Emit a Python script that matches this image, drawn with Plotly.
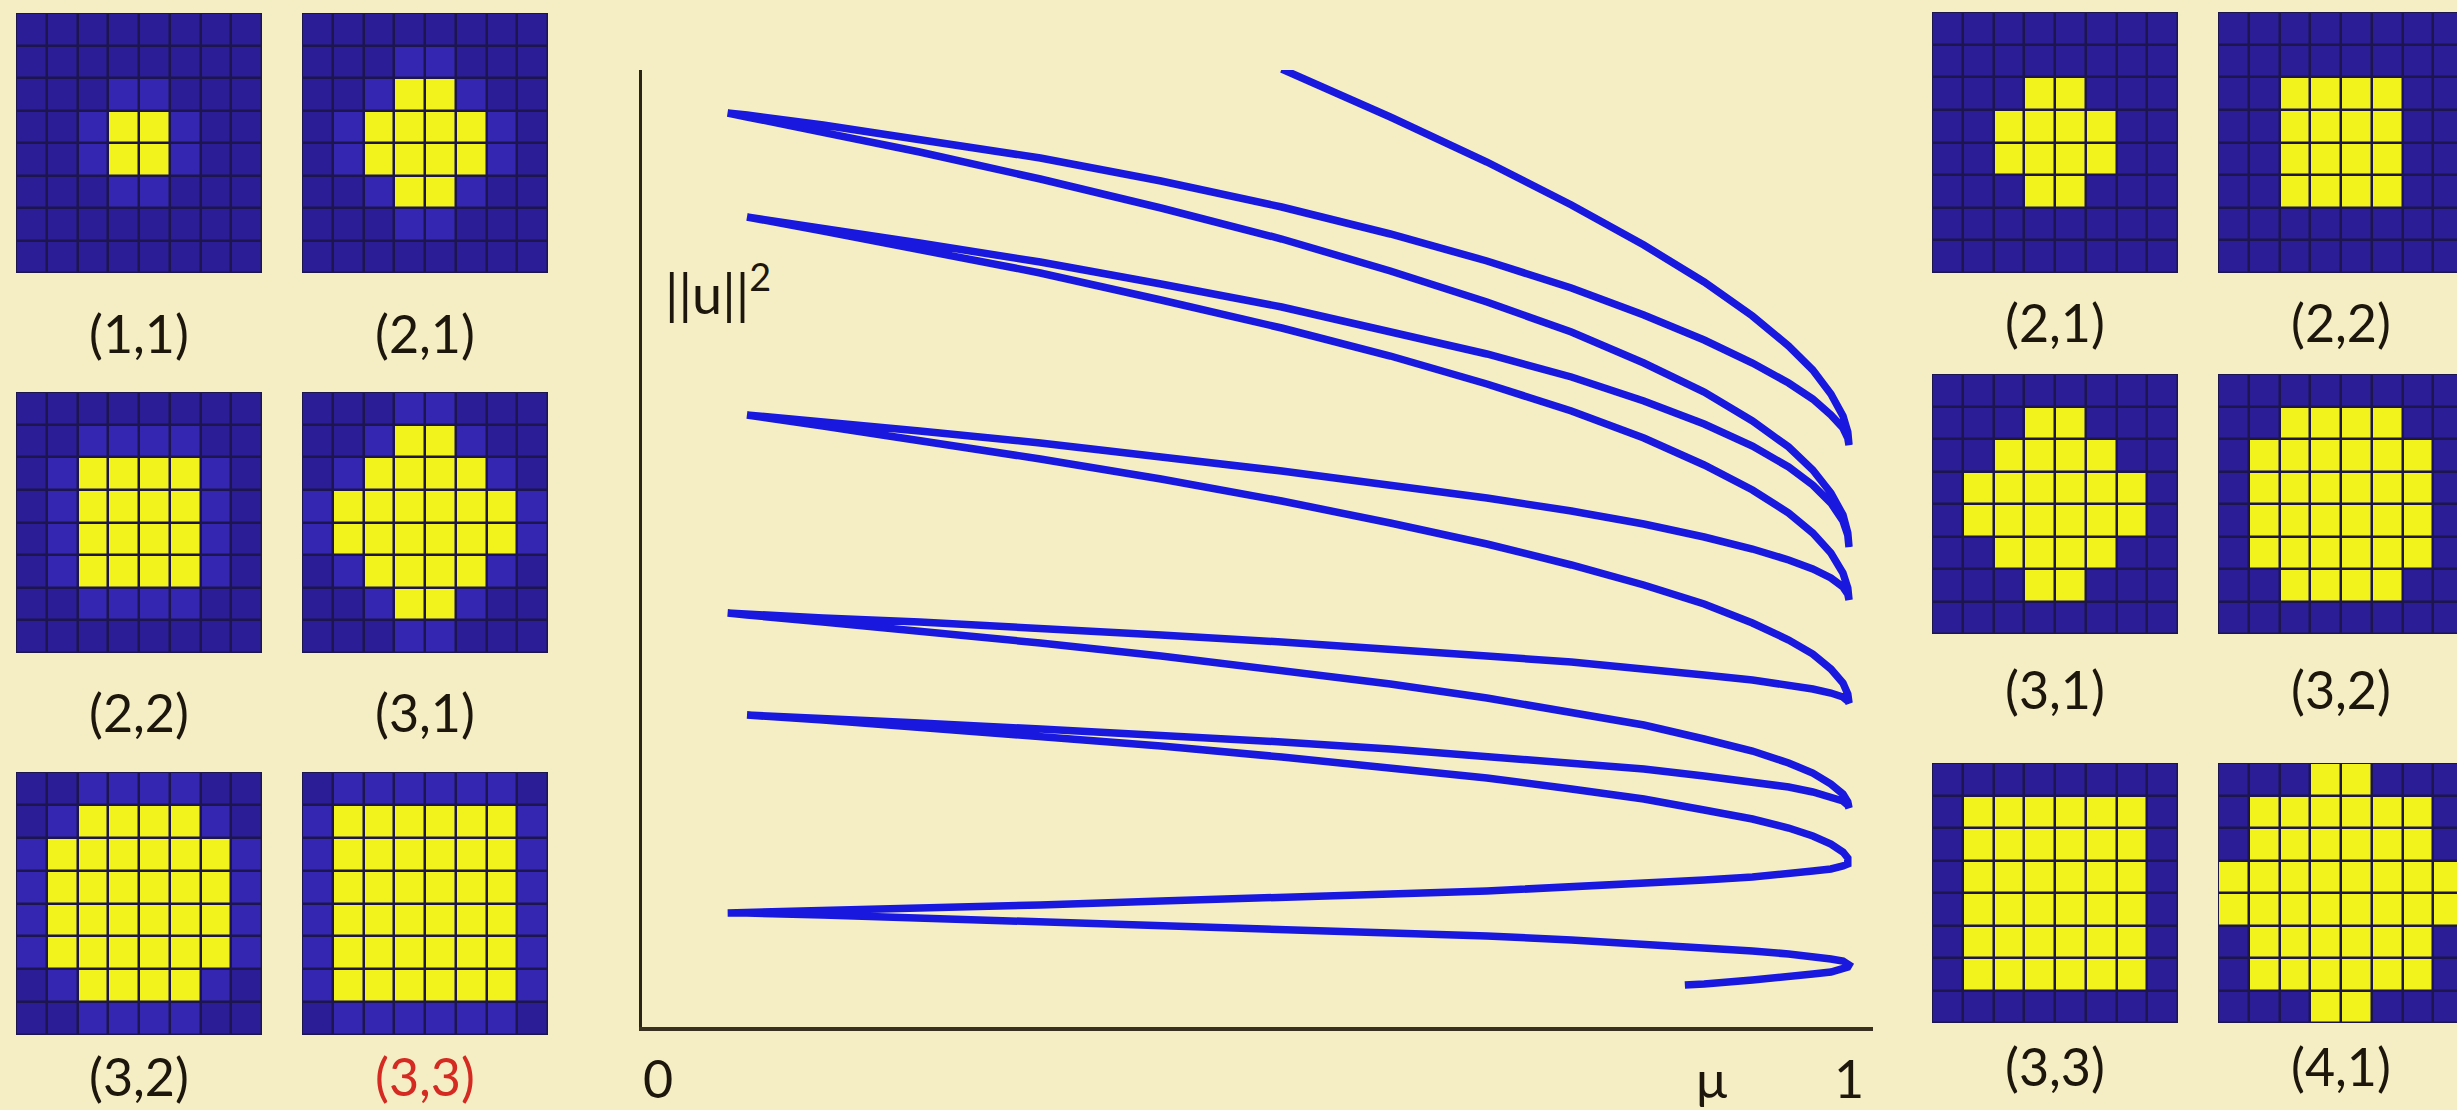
import plotly.graph_objects as go

W, H = 2457, 1110
BG = "#F5EEC4"
INK = "#1c160c"
CURVE = "#1818DE"

# ---- bifurcation curve: (mu, ||u||^2) samples along each branch, in path order ----
seg_top = [(0.530, 95.8), (0.62, 91.0), (0.70, 86.5), (0.77, 82.2), (0.83, 78.2), (0.88, 74.5),
           (0.92, 71.1), (0.95, 68.1), (0.97, 65.7), (0.985, 63.3), (0.995, 61.1), (0.999, 59.5),
           (1.0, 58.2)]
seg_1 = [(0.999, 58.9), (0.995, 59.9), (0.985, 61.2), (0.97, 62.8), (0.95, 64.4), (0.92, 66.4),
         (0.88, 68.7), (0.83, 71.2), (0.77, 73.9), (0.70, 76.6), (0.62, 79.3), (0.53, 82.0),
         (0.43, 84.6), (0.33, 86.9), (0.23, 88.8), (0.15, 90.2), (0.087, 91.2), (0.071, 91.4)]
seg_2 = [(0.087, 91.0), (0.15, 89.5), (0.23, 87.5), (0.33, 84.8), (0.43, 81.9), (0.53, 78.8),
         (0.62, 75.6), (0.70, 72.5), (0.77, 69.5), (0.83, 66.4), (0.88, 63.5), (0.92, 60.6),
         (0.95, 58.0), (0.97, 55.7), (0.985, 53.4), (0.995, 51.2), (0.999, 49.4), (1.0, 48.0)]
seg_3 = [(0.999, 49.2), (0.995, 50.6), (0.985, 52.4), (0.97, 54.2), (0.95, 56.0), (0.92, 58.1),
         (0.88, 60.3), (0.83, 62.6), (0.77, 65.0), (0.70, 67.3), (0.62, 69.6), (0.53, 72.0),
         (0.43, 74.3), (0.33, 76.5), (0.23, 78.4), (0.15, 79.9), (0.087, 81.0)]
seg_4 = [(0.15, 79.6), (0.23, 77.8), (0.33, 75.4), (0.43, 72.7), (0.53, 69.9), (0.62, 67.1),
         (0.70, 64.3), (0.77, 61.6), (0.83, 58.9), (0.88, 56.2), (0.92, 53.7), (0.95, 51.4),
         (0.97, 49.4), (0.985, 47.4), (0.995, 45.4), (0.999, 43.9), (1.0, 42.7)]
seg_5 = [(0.999, 43.3), (0.995, 44.0), (0.985, 44.9), (0.97, 45.8), (0.95, 46.7), (0.92, 47.8),
         (0.88, 49.0), (0.83, 50.3), (0.77, 51.6), (0.70, 52.9), (0.62, 54.2), (0.53, 55.6),
         (0.43, 57.0), (0.33, 58.4), (0.23, 59.6), (0.15, 60.5), (0.087, 61.2)]
seg_6 = [(0.15, 60.1), (0.23, 58.7), (0.33, 56.8), (0.43, 54.8), (0.53, 52.6), (0.62, 50.4),
         (0.70, 48.3), (0.77, 46.2), (0.83, 44.2), (0.88, 42.3), (0.92, 40.4), (0.95, 38.7),
         (0.97, 37.3), (0.985, 35.8), (0.995, 34.4), (0.999, 33.3), (1.0, 32.4)]
seg_7 = [(0.999, 32.6), (0.995, 33.0), (0.985, 33.4), (0.97, 33.8), (0.95, 34.2), (0.92, 34.7),
         (0.88, 35.2), (0.83, 35.8), (0.77, 36.5), (0.70, 37.1), (0.62, 37.8), (0.53, 38.5),
         (0.43, 39.2), (0.33, 39.9), (0.23, 40.5), (0.15, 40.9), (0.087, 41.3), (0.071, 41.4)]
seg_8 = [(0.087, 41.2), (0.15, 40.5), (0.23, 39.6), (0.33, 38.4), (0.43, 37.1), (0.53, 35.7),
         (0.62, 34.3), (0.70, 32.9), (0.77, 31.5), (0.83, 30.2), (0.88, 28.8), (0.92, 27.6),
         (0.95, 26.4), (0.97, 25.4), (0.985, 24.3), (0.995, 23.3), (0.999, 22.5), (1.0, 21.9)]
seg_9 = [(0.999, 22.2), (0.995, 22.6), (0.985, 23.0), (0.97, 23.5), (0.95, 24.0), (0.92, 24.5),
         (0.88, 25.1), (0.83, 25.8), (0.77, 26.4), (0.70, 27.1), (0.62, 27.8), (0.53, 28.5),
         (0.43, 29.2), (0.33, 29.8), (0.23, 30.4), (0.15, 30.9), (0.087, 31.2)]
seg_10 = [(0.15, 30.7), (0.23, 30.0), (0.33, 29.1), (0.43, 28.1), (0.53, 27.0), (0.62, 25.9),
          (0.70, 24.9), (0.77, 23.8), (0.83, 22.8), (0.88, 21.7), (0.92, 20.8), (0.95, 19.9),
          (0.97, 19.1), (0.985, 18.3), (0.995, 17.5), (0.999, 16.9), (1.0, 16.4)]
seg_11 = [(0.999, 16.3), (0.995, 16.1), (0.985, 15.8), (0.97, 15.6), (0.95, 15.3), (0.92, 15.0),
          (0.88, 14.7), (0.83, 14.4), (0.77, 14.0), (0.70, 13.6), (0.62, 13.3), (0.53, 12.9),
          (0.43, 12.6), (0.33, 12.2), (0.23, 11.9), (0.15, 11.6), (0.087, 11.5), (0.071, 11.4)]
seg_12 = [(0.087, 11.4), (0.15, 11.2), (0.23, 10.9), (0.33, 10.6), (0.43, 10.2), (0.53, 9.8),
          (0.62, 9.4), (0.70, 9.1), (0.77, 8.7), (0.83, 8.3), (0.88, 8.0), (0.92, 7.6),
          (0.95, 7.3), (0.97, 7.1), (0.985, 6.8), (0.995, 6.6), (0.999, 6.4), (1.0, 6.2)]
seg_end = [(0.999, 6.0), (0.995, 5.8), (0.985, 5.5), (0.97, 5.3), (0.95, 5.0), (0.92, 4.7),
           (0.88, 4.3), (0.864, 4.2)]

branch_path = [seg_top, seg_1, seg_2, seg_3, seg_4, seg_5, seg_6, seg_7,
               seg_8, seg_9, seg_10, seg_11, seg_12, seg_end]

# ---- lattice patterns, top row first: '#' excited site, '+' weakly raised site ----
pat_11 = ["........", "........", "...++...", "..+##+..", "..+##+..", "...++...", "........", "........"]
pat_21 = ["........", "...++...", "..+##+..", ".+####+.", ".+####+.", "..+##+..", "...++...", "........"]
pat_22 = ["........", "..++++..", ".+####+.", ".+####+.", ".+####+.", ".+####+.", "..++++..", "........"]
pat_31 = ["...++...", "..+##+..", ".+####+.", "+######+", "+######+", ".+####+.", "..+##+..", "...++..."]
pat_32 = ["..++++..", ".+####+.", "+######+", "+######+", "+######+", "+######+", ".+####+.", "..++++.."]
pat_33 = [".++++++.", "+######+", "+######+", "+######+", "+######+", "+######+", "+######+", ".++++++."]
pat_41 = ["...##...", ".######.", ".######.", "########", "########", ".######.", ".######.", "...##..."]

left_labels = ["(1,1)", "(2,1)", "(2,2)", "(3,1)", "(3,2)", "(3,3)"]
left_patterns = [pat_11, pat_21, pat_22, pat_31, pat_32, pat_33]
right_labels = ["(2,1)", "(2,2)", "(3,1)", "(3,2)", "(3,3)", "(4,1)"]
right_patterns = [pat_21, pat_22, pat_31, pat_32, pat_33, pat_41]
highlight_label = 5  # index of the emphasised left pattern


def to_grid(pattern, halo):
    lvl = {"#": 1.0, "+": 0.5 if halo else 0.0, ".": 0.0}
    return [[lvl[c] for c in row] for row in pattern]


fig = go.Figure()

# main diagram
xs, ys = [], []
for seg in branch_path:
    for m, n in seg:
        xs.append(m)
        ys.append(n)
fig.add_trace(go.Scatter(x=xs, y=ys, mode="lines", xaxis="x", yaxis="y",
                         line=dict(color=CURVE, width=7.5),
                         hoverinfo="skip", showlegend=False, cliponaxis=False))

px_x0, px_x1 = 642, 1873      # axis span in pixels
px_y0, px_y1 = 1027, 70
mu_px = 1207.0                # pixels per unit mu
layout = dict(
    width=W, height=H, margin=dict(l=0, r=0, t=0, b=0),
    paper_bgcolor=BG, plot_bgcolor=BG, showlegend=False,
    xaxis=dict(domain=[px_x0 / W, px_x1 / W], range=[0, (px_x1 - px_x0) / mu_px],
               showline=True, linecolor="#3a3020", linewidth=4, showgrid=False,
               zeroline=False, showticklabels=False, ticks=""),
    yaxis=dict(domain=[(H - px_y0) / H, (H - px_y1) / H], range=[0, (px_y0 - px_y1) / 10.0],
               showline=True, linecolor="#2a2418", linewidth=3, showgrid=False,
               zeroline=False, showticklabels=False, ticks=""),
)

# panel boxes in pixels: (x0, x1, y0, y1); the far-right column runs off the page
pw = 246
left_boxes = []
for (y0, y1) in [(13, 273), (392, 653), (772, 1035)]:
    for x0 in [16, 302]:
        left_boxes.append((x0, x0 + pw, y0, y1))
right_boxes = []
for (y0, y1) in [(12, 273), (374, 634), (763, 1023)]:
    for x0 in [1932, 2218]:
        right_boxes.append((x0, x0 + pw, y0, y1))
left_label_y = [333, 333, 712, 712, 1076, 1076]
right_label_y = [322, 322, 689, 689, 1066, 1066]

scale = [[0.0, "#2B1D96"], [0.33, "#2B1D96"], [0.33, "#3526B2"], [0.66, "#3526B2"],
         [0.66, "#F2F21C"], [1.0, "#F2F21C"]]

shapes = []
annotations = []
panels = [(p, b, True) for p, b in zip(left_patterns, left_boxes)] + \
         [(p, b, False) for p, b in zip(right_patterns, right_boxes)]
for k, (pat, (x0, x1, y0, y1), halo) in enumerate(panels):
    n = k + 2
    cell = (x1 - x0) / 8.0
    vis_x1 = min(x1, W)
    xr = [-0.5, -0.5 + (vis_x1 - x0) / cell]
    fig.add_trace(go.Heatmap(z=to_grid(pat, halo), xaxis=f"x{n}", yaxis=f"y{n}",
                             colorscale=scale, zmin=0, zmax=1, showscale=False,
                             xgap=2.5, ygap=2.5, hoverinfo="skip"))
    layout[f"xaxis{n}"] = dict(domain=[x0 / W, vis_x1 / W], range=xr, visible=False,
                               fixedrange=True)
    layout[f"yaxis{n}"] = dict(domain=[(H - y1) / H, (H - y0) / H], range=[7.5, -0.5],
                               visible=False, fixedrange=True)
    shapes.append(dict(type="rect", xref=f"x{n} domain", yref=f"y{n} domain",
                       x0=0, x1=1, y0=0, y1=1, fillcolor="#1d154e", line=dict(width=0),
                       layer="below"))

label_font = dict(family="Lato, 'Open Sans', sans-serif", size=52, color=INK)
for i, (lab, (x0, x1, y0, y1)) in enumerate(zip(left_labels, left_boxes)):
    f = dict(label_font)
    if i == highlight_label:
        f["color"] = "#D42A22"
    annotations.append(dict(x=(x0 + x1) / 2 / W, y=1 - left_label_y[i] / H, xref="paper",
                            yref="paper", text=lab, showarrow=False, font=f,
                            xanchor="center", yanchor="middle"))
for i, (lab, (x0, x1, y0, y1)) in enumerate(zip(right_labels, right_boxes)):
    annotations.append(dict(x=(x0 + x1) / 2 / W, y=1 - right_label_y[i] / H,
                            xref="paper", yref="paper", text=lab, showarrow=False,
                            font=label_font, xanchor="center", yanchor="middle"))

# axis annotations
axis_label_y = 1 - 1078 / H
annotations.append(dict(x=658 / W, y=axis_label_y, xref="paper", yref="paper", text="0",
                        showarrow=False, font=label_font, xanchor="center", yanchor="middle"))
annotations.append(dict(x=(1711 - px_x0) / mu_px, y=axis_label_y, xref="x", yref="paper",
                        text="μ", showarrow=False, font=label_font,
                        xanchor="center", yanchor="middle"))
annotations.append(dict(x=1.0, y=axis_label_y, xref="x", yref="paper",
                        text="1", showarrow=False, font=label_font,
                        xanchor="center", yanchor="middle"))
annotations.append(dict(x=663 / W, y=1 - 290 / H, xref="paper", yref="paper",
                        text="||u||<sup>2</sup>", showarrow=False,
                        font=dict(family="Lato, 'Open Sans', sans-serif", size=54, color=INK),
                        xanchor="left", yanchor="middle"))

layout["shapes"] = shapes
layout["annotations"] = annotations
fig.update_layout(**layout)
fig.write_html("out.html")
